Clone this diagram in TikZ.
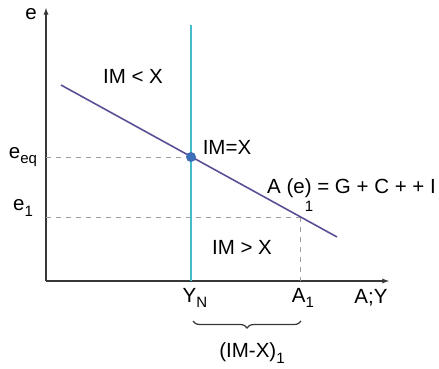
\documentclass[tikz,border=0pt]{standalone}
\usepackage{fontspec}
\setmainfont{Liberation Sans}
\usepackage{tikz}
\usetikzlibrary{decorations.pathreplacing,calc}
\usetikzlibrary{arrows}
\definecolor{axisgray}{RGB}{55,55,55}
\definecolor{ynline}{RGB}{70,185,205}
\definecolor{aeline}{RGB}{90,80,150}
\definecolor{eqdot}{RGB}{60,110,185}
\tikzstyle{axis} = [draw=axisgray, line width=1.3pt, -latex]
\tikzstyle{guide} = [draw=gray!75, dash pattern=on 5pt off 5pt, line width=0.9pt]
\tikzstyle{lab} = [font=\fontsize{20.5}{23}\selectfont, inner sep=1pt]
\newcommand{\lowidx}[1]{\raisebox{-0.5ex}{\fontsize{15}{16}\selectfont #1}}

\begin{document}
\begin{tikzpicture}[x=1pt,y=-1pt]
\useasboundingbox (0,0) rectangle (439,369);

% axes
\coordinate (O) at (46,281);
\coordinate (ytop) at (46,8);
\coordinate (xend) at (389,281);
\draw[axis] (O) -- (ytop);
\draw[axis] (O) -- (xend);

% points on the A(e) line
\coordinate (astart) at (61,85);
\coordinate (aend) at (337,237);
\coordinate (eq) at (191,157);
\coordinate (p1) at (300,217);

% guides
\coordinate (eeqax) at (46,157);
\coordinate (e1ax) at (46,217);
\coordinate (a1ax) at (300,281);
\draw[guide] (eeqax) -- (eq);
\draw[guide] (e1ax) -- (p1);
\draw[guide] (p1) -- (a1ax);

% Y_N and A(e)
\coordinate (yntop) at (191,25);
\coordinate (ynax) at (191,281);
\draw[ynline, line width=1.5pt] (yntop) -- (ynax);
\draw[aeline, line width=1.6pt] (astart) -- (aend);
\fill[eqdot] (eq) circle[radius=5pt];

% labels
\node[lab] (labE) at (31,14) {e};
\node[lab] (labIMlt) at (133,76) {IM < X};
\node[lab] (labEeq) at (23,157) {e\lowidx{eq}};
\node[lab] (labE1) at (23,208) {e\lowidx{1}};
\node[lab] (labIMeq) at (227,147) {IM=X};
\node[lab, anchor=west] (labAe) at (266,188) {A (e) = G + C + + I};
\node[font=\fontsize{15}{16}\selectfont] (labOne) at (309,206) {1};
\node[lab] (labIMgt) at (242,247) {IM > X};
\node[lab] (labYN) at (195,298) {Y\lowidx{N}};
\node[lab] (labA1) at (303,298) {A\lowidx{1}};
\node[lab] (labAY) at (371,298) {A;Y};

% gap brace
\coordinate (bl) at (193,321);
\coordinate (br) at (301,321);
\draw[axisgray, line width=1.2pt, decorate, decoration={brace, mirror, amplitude=7pt}] (bl) -- (br);
\node[lab] (labGap) at (252,353) {(IM-X)\lowidx{1}};
\end{tikzpicture}
\end{document}
